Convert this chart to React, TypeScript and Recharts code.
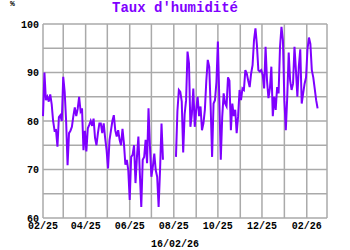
import { CartesianGrid, Line, LineChart, XAxis, YAxis } from "recharts";

// one reading every 2 days, starting 01/02/25 (day 0)
const STEP_DAYS = 2;

const humidite: (number | null)[] = [
  81, 90, 84.3, 85, 84, 85.5, 83.5, 80, 78, 78.1,
  74.7, 80.8, 81.2, 80, 89.1, 86, 80, 70.9, 77.5, 78,
  78.8, 81, 82.8, 81, 82.5, 85, 82, 82.6, 74, 78,
  73.7, 78.5, 79.2, 80, 79, 80.5, 76.5, 75, 77.5, 79.5,
  79.5, 77.5, 79.5, 76.5, 74, 70.2, 76, 78, 80, 81.2,
  78.1, 76.8, 78.1, 76.1, 75, 78.4, 75.4, 71, 72, 69.9,
  63.7, 72.6, 73, 75, 67.2, 72.6, 76.8, 69.2, 62.3, 72,
  72.6, 76.1, 71.3, 82.6, 74.7, 68.5, 70.6, 73.3, 69.9, 68.5,
  62.3, 70, 79.5, 72, null, null, null, null, null, null,
  null, null, 72.6, 82, 86.4, 86, 84, 73.5, 81.4, 84.3,
  94.3, 91.9, 78.8, 81.4, 86.7, 78.8, 82.3, 85, 81, 83,
  78.1, 79.5, 82.3, 88.3, 92.6, 91.2, 83, 72.6, 83.6, 84.3,
  88, 96.4, 84.3, 72, 80.8, 85.7, 83.6, 83, 89, 88.3,
  78.1, 83.6, 81, 82.3, 77.5, 81, 86.4, 84.3, 86.7, 86.4,
  90.5, 89.8, 88.3, 87, 89.8, 91.5, 96.7, 99.1, 95.7, 90.5,
  90.2, 90.5, 89.5, 86.7, 95.3, 88.3, 84.7, 86.7, 91.2, 81,
  85, 82.3, 87, 85.7, 95.3, 99.4, 96.7, 84.3, 78.1, 85,
  94.1, 88.3, 86.4, 87.7, 95.3, 90.5, 85, 91.2, 94.8, 83.6,
  85.7, 87.7, 89, 94.8, 97.2, 95.9, 90.5, 89, 86.7, 84.3,
  82.6,
];

// month starts, in days since 01/02/25
const monthTicks = [0, 28, 59, 89, 120, 150, 181, 212, 242, 273, 303, 334, 365, 393];
const monthLabels = ["02/25", "", "04/25", "", "06/25", "", "08/25", "", "10/25", "", "12/25", "", "02/26", ""];
const yTicks = [60, 65, 70, 75, 80, 85, 90, 95, 100];

const chartData = humidite.map((v, i) => ({ day: i * STEP_DAYS, v }));

const mono = "'Liberation Mono', 'DejaVu Sans Mono', monospace";
const purple = "#7f00ff";
const tickStyle = { fill: "#000", fontSize: 10, fontWeight: "bold", fontFamily: mono };

export default function App() {
  return (
    <div style={{ position: "absolute", left: 0, top: 0, width: 350, height: 250, background: "#fff" }}>
      <div style={{ position: "absolute", left: 10, top: 0, fontSize: 8, lineHeight: "8px", fontFamily: mono, fontWeight: "bold" }}>%</div>
      <div
        style={{
          position: "absolute", left: 0, top: 1, width: 350, textAlign: "center",
          fontSize: 14, lineHeight: "14px", fontWeight: "bold", fontFamily: mono, color: purple,
        }}
      >
        Taux d'humidité
      </div>
      <LineChart width={350} height={250} data={chartData} margin={{ top: 24, right: 23, bottom: 18, left: 0 }}>
        <CartesianGrid stroke="#aaa" strokeWidth={1.5} />
        <XAxis
          dataKey="day"
          type="number"
          domain={[0, 393]}
          ticks={monthTicks}
          interval={0}
          tickFormatter={(d) => monthLabels[monthTicks.indexOf(d)] ?? ""}
          tick={tickStyle}
          tickSize={0}
          tickMargin={4}
          axisLine={false}
          tickLine={false}
          height={14}
        />
        <YAxis
          type="number"
          domain={[60, 100]}
          ticks={yTicks}
          interval={0}
          tickFormatter={(v) => (v % 10 === 0 ? String(v) : "")}
          tick={tickStyle}
          tickSize={0}
          tickMargin={4}
          axisLine={false}
          tickLine={false}
          width={43}
        />
        <Line
          type="linear"
          dataKey="v"
          stroke={purple}
          strokeWidth={2}
          dot={false}
          isAnimationActive={false}
        />
      </LineChart>
      <div
        style={{
          position: "absolute", left: 0, top: 240, width: 350, textAlign: "center",
          fontSize: 10, lineHeight: "10px", fontWeight: "bold", fontFamily: mono,
        }}
      >
        16/02/26
      </div>
    </div>
  );
}
